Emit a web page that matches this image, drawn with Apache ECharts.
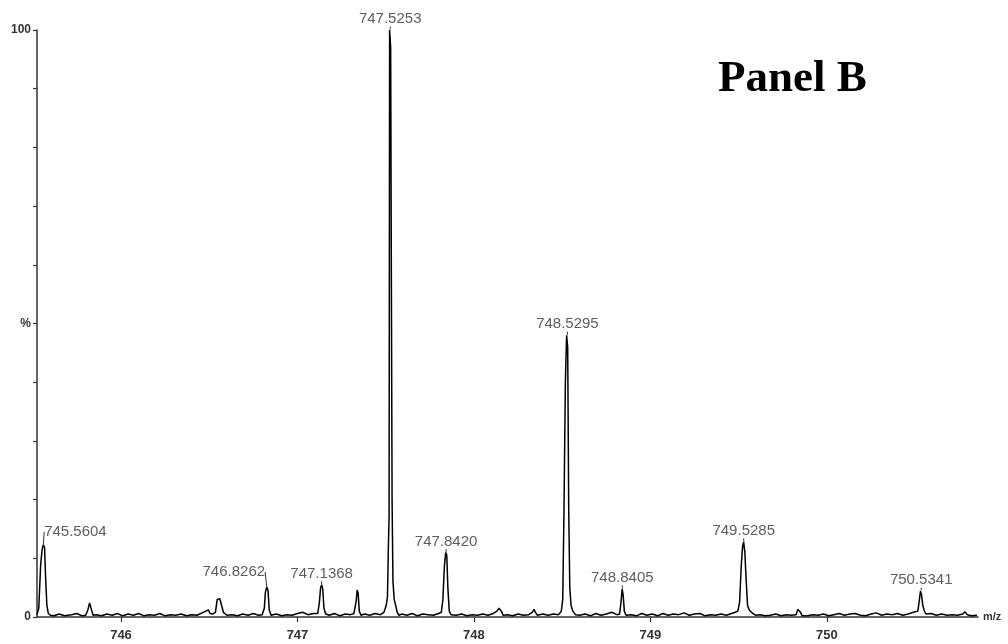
<!DOCTYPE html>
<html>
<head>
<meta charset="utf-8">
<script src="https://cdn.jsdelivr.net/npm/echarts@6/dist/echarts.min.js"></script>
<style>
  html, body { margin: 0; padding: 0; background: #fff; }
  #spectrum { width: 1008px; height: 644px; }
</style>
</head>
<body>
<div id="spectrum"></div>
<script>
// profile of the spectrum, [m/z, relative intensity %]
var spectrum = [
  [745.524, 0.4], [745.534, 1.5], [745.545, 9], [745.553, 11.5], [745.560, 12.3], [745.567, 11.8],
  [745.573, 6.5], [745.580, 2], [745.588, 0.6], [745.600, 0.3], [745.62, 0.2], [745.65, 0.5],
  [745.68, 0.2], [745.72, 0.4], [745.75, 0.6], [745.78, 0.2], [745.800, 0.3], [745.812, 1.2],
  [745.822, 2.4], [745.832, 1.3], [745.842, 0.3], [745.86, 0.4], [745.89, 0.2], [745.92, 0.5],
  [745.95, 0.3], [745.98, 0.6], [746.01, 0.2], [746.04, 0.5], [746.07, 0.3], [746.10, 0.6],
  [746.13, 0.2], [746.16, 0.4], [746.19, 0.3], [746.22, 0.6], [746.25, 0.2], [746.28, 0.4],
  [746.31, 0.3], [746.34, 0.5], [746.37, 0.2], [746.40, 0.4], [746.43, 0.3], [746.46, 0.7],
  [746.47, 0.4], [746.48, 1.0], [746.495, 1.2], [746.505, 0.6], [746.52, 0.5], [746.535, 0.8],
  [746.545, 3.0], [746.560, 3.1], [746.570, 3.0], [746.58, 0.8], [746.60, 0.3], [746.63, 0.4],
  [746.66, 0.2], [746.69, 0.5], [746.72, 0.3], [746.75, 0.6], [746.78, 0.3], [746.800, 0.4],
  [746.812, 1.5], [746.818, 4.2], [746.826, 5.1], [746.833, 4.5], [746.840, 1.2], [746.850, 0.3],
  [746.88, 0.5], [746.91, 0.2], [746.94, 0.4], [746.97, 0.3], [747.00, 0.6], [747.03, 0.8],
  [747.06, 0.4], [747.09, 0.6], [747.115, 0.6], [747.124, 2.5], [747.131, 5.0], [747.137, 5.5],
  [747.143, 4.8], [747.150, 1.5], [747.160, 0.5], [747.18, 0.3], [747.21, 0.6], [747.24, 0.2],
  [747.27, 0.5], [747.30, 0.4], [747.32, 0.6], [747.325, 0.5], [747.333, 2.8], [747.338, 4.6],
  [747.344, 4.0], [747.350, 1.0], [747.360, 0.3], [747.38, 0.5], [747.41, 0.3], [747.44, 0.6],
  [747.47, 0.4], [747.49, 0.8], [747.503, 2.0], [747.510, 3.5], [747.515, 12], [747.519, 17],
  [747.522, 100], [747.528, 97], [747.532, 57], [747.536, 20], [747.541, 6], [747.548, 3],
  [747.556, 2], [747.565, 0.8], [747.575, 0.3], [747.59, 0.5], [747.62, 0.3], [747.65, 0.6],
  [747.68, 0.2], [747.71, 0.5], [747.74, 0.4], [747.77, 0.3], [747.80, 0.6], [747.815, 0.8],
  [747.824, 3], [747.832, 8.5], [747.840, 11], [747.846, 10.5], [747.852, 5], [747.860, 1],
  [747.870, 0.4], [747.90, 0.3], [747.93, 0.5], [747.96, 0.2], [747.99, 0.4], [748.02, 0.3],
  [748.05, 0.5], [748.08, 0.3], [748.11, 0.6], [748.13, 1.0], [748.142, 1.5], [748.155, 1.0],
  [748.165, 0.3], [748.19, 0.4], [748.22, 0.2], [748.25, 0.5], [748.28, 0.3], [748.31, 0.4],
  [748.33, 0.8], [748.340, 1.3], [748.350, 0.7], [748.36, 0.3], [748.39, 0.5], [748.42, 0.3],
  [748.45, 0.5], [748.48, 0.4], [748.495, 1.0], [748.503, 3], [748.510, 18], [748.518, 40],
  [748.525, 48], [748.531, 46], [748.537, 18], [748.543, 5], [748.550, 2], [748.560, 1],
  [748.575, 0.4], [748.60, 0.3], [748.63, 0.5], [748.66, 0.2], [748.69, 0.6], [748.72, 0.3],
  [748.75, 0.5], [748.78, 0.8], [748.81, 0.4], [748.825, 0.5], [748.833, 2.5], [748.840, 4.8],
  [748.846, 3.5], [748.852, 1.0], [748.862, 0.3], [748.89, 0.4], [748.92, 0.2], [748.95, 0.6],
  [748.98, 0.3], [749.01, 0.5], [749.04, 0.2], [749.07, 0.6], [749.10, 0.3], [749.13, 0.5],
  [749.16, 0.4], [749.19, 0.7], [749.22, 0.3], [749.25, 0.5], [749.28, 0.6], [749.31, 0.2],
  [749.34, 0.4], [749.37, 0.3], [749.40, 0.5], [749.43, 0.3], [749.46, 0.6], [749.48, 0.8],
  [749.495, 1.0], [749.505, 2.5], [749.515, 9], [749.522, 12], [749.528, 12.8], [749.535, 11],
  [749.542, 6.5], [749.550, 2], [749.560, 1.2], [749.570, 1.5], [749.580, 0.6], [749.595, 0.3],
  [749.62, 0.4], [749.65, 0.2], [749.68, 0.3], [749.71, 0.5], [749.74, 0.2], [749.77, 0.4],
  [749.80, 0.3], [749.825, 0.4], [749.835, 1.3], [749.842, 1.6], [749.850, 0.8], [749.860, 0.2],
  [749.89, 0.2], [749.92, 0.4], [749.95, 0.3], [749.98, 0.5], [750.01, 0.2], [750.04, 0.4],
  [750.07, 0.6], [750.10, 0.3], [750.13, 0.5], [750.16, 0.6], [750.19, 0.3], [750.22, 0.2],
  [750.25, 0.5], [750.28, 0.7], [750.31, 0.3], [750.34, 0.5], [750.37, 0.4], [750.40, 0.6],
  [750.43, 0.3], [750.46, 0.5], [750.49, 0.8], [750.515, 1.0], [750.522, 2.5], [750.530, 4.4],
  [750.536, 3.8], [750.543, 2.0], [750.552, 1.0], [750.562, 0.5], [750.59, 0.6], [750.62, 0.3],
  [750.65, 0.5], [750.68, 0.3], [750.71, 0.4], [750.74, 0.3], [750.77, 0.5], [750.782, 0.9],
  [750.795, 0.4], [750.82, 0.2], [750.85, 0.3]
];

// labelled peaks: centroid m/z and apex height %
var peakMz = [745.5604, 746.8262, 747.1368, 747.5253, 747.8420, 748.5295, 748.8405, 749.5285, 750.5341];
var peakTop = [12.3, 5.1, 5.5, 100, 11, 48, 4.8, 12.8, 4.4];

var xTicks = [746, 747, 748, 749, 750];
var yTicks = [0, 50, 100];
var yTickText = ['0', '%', '100'];

// some labels sit beside their peak with a short leader line
var labelShift = { 0: [32, -2], 1: [-33, -4] };

function draw() {
    let myChart = echarts.init(document.getElementById('spectrum'));

    let labelData = [];
    for (let i = 0; i < peakMz.length; i++) {
        labelData.push([peakMz[i], peakTop[i]]);
    }

    option = {
        backgroundColor: '#fff',
        animation: false,
        grid: { left: 37, right: 30, top: 30, bottom: 27 },
        graphic: [
            {
                type: 'text',
                left: 718,
                top: 57,
                style: {
                    text: 'Panel B',
                    font: 'bold 45px "Liberation Serif", "Times New Roman", serif',
                    fill: '#000'
                }
            }
        ],
        xAxis: {
            type: 'value',
            min: 745.524,
            max: 750.856,
            name: 'm/z',
            nameLocation: 'end',
            nameGap: 5,
            nameTextStyle: { color: '#333', fontSize: 11, fontWeight: 'bold', fontFamily: 'Liberation Sans', verticalAlign: 'middle' },
            axisLine: { lineStyle: { color: '#333', width: 1.5 } },
            axisTick: { show: true, length: 5, customValues: xTicks, lineStyle: { color: '#333', width: 1.2 } },
            axisLabel: {
                customValues: xTicks,
                color: '#333',
                fontSize: 13,
                fontWeight: 'bold',
                fontFamily: 'Liberation Sans',
                margin: 12
            },
            splitLine: { show: false }
        },
        yAxis: {
            type: 'value',
            min: 0,
            max: 100,
            interval: 10,
            axisLine: { show: true, lineStyle: { color: '#333', width: 1.5 } },
            axisTick: { show: true, length: 4, lineStyle: { color: '#333', width: 1.2 } },
            axisLabel: {
                customValues: yTicks,
                formatter: function (v) { return yTickText[yTicks.indexOf(v)]; },
                color: '#333',
                fontSize: 12,
                fontWeight: 'bold',
                fontFamily: 'Liberation Sans',
                margin: 6
            },
            splitLine: { show: false }
        },
        series: [
            {
                name: 'spectrum',
                type: 'line',
                data: spectrum,
                showSymbol: false,
                symbol: 'none',
                lineStyle: { color: '#000', width: 1.5 },
                z: 3
            },
            {
                name: 'peaks',
                type: 'scatter',
                data: labelData,
                symbolSize: 1,
                itemStyle: { color: 'rgba(0,0,0,0)' },
                label: {
                    show: true,
                    position: 'top',
                    distance: 3,
                    color: '#333',
                    fontSize: 15,
                    fontFamily: 'Liberation Sans',
                    formatter: function (p) { return p.value[0].toFixed(4); }
                },
                labelLine: { show: true, lineStyle: { color: '#333', width: 1 } },
                labelLayout: function (p) {
                    let s = labelShift[p.dataIndex];
                    if (s) return { dx: s[0], dy: s[1] };
                    return {};
                },
                z: 4
            }
        ]
    };

    myChart.setOption(option, true);
}

draw();
</script>
</body>
</html>
